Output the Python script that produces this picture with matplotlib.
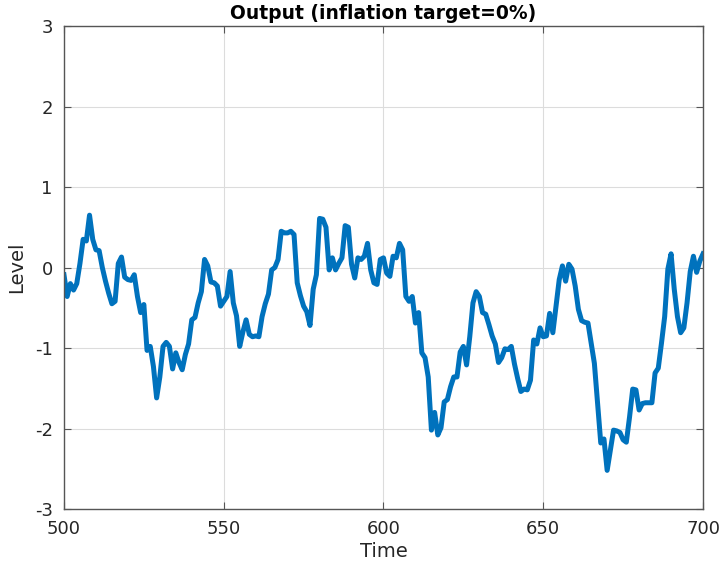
import matplotlib
matplotlib.use("Agg")
import matplotlib.pyplot as plt
import numpy as np

plt.rcParams['font.family'] = ['DejaVu Sans']
plt.rcParams['axes.unicode_minus'] = False

time = list(range(500, 701))
level = [
    -0.09, -0.36, -0.20, -0.28, -0.20, 0.05, 0.35, 0.33, 0.65, 0.35,
    0.22, 0.21, 0.00, -0.17, -0.32, -0.45, -0.42, 0.05, 0.13, -0.12,
    -0.15, -0.16, -0.09, -0.36, -0.56, -0.46, -1.03, -0.98, -1.23, -1.62,
    -1.36, -0.98, -0.93, -0.98, -1.26, -1.06, -1.18, -1.27, -1.08, -0.95,
    -0.65, -0.62, -0.44, -0.30, 0.10, 0.02, -0.18, -0.19, -0.23, -0.48,
    -0.42, -0.36, -0.05, -0.44, -0.60, -0.98, -0.80, -0.65, -0.83, -0.86,
    -0.85, -0.86, -0.61, -0.45, -0.33, -0.03, 0.00, 0.10, 0.45, 0.43,
    0.43, 0.45, 0.41, -0.19, -0.35, -0.48, -0.55, -0.72, -0.27, -0.09,
    0.61, 0.60, 0.50, -0.03, 0.12, -0.03, 0.05, 0.12, 0.52, 0.50,
    0.04, -0.13, 0.12, 0.10, 0.14, 0.30, -0.03, -0.19, -0.21, 0.10,
    0.12, -0.07, -0.11, 0.14, 0.12, 0.30, 0.22, -0.36, -0.42, -0.36,
    -0.69, -0.56, -1.06, -1.12, -1.36, -2.02, -1.80, -2.08, -1.99, -1.67,
    -1.64, -1.48, -1.36, -1.36, -1.05, -0.98, -1.21, -0.86, -0.44, -0.30,
    -0.36, -0.56, -0.58, -0.71, -0.85, -0.95, -1.18, -1.12, -1.01, -1.02,
    -0.98, -1.20, -1.38, -1.54, -1.51, -1.52, -1.40, -0.90, -0.95, -0.75,
    -0.86, -0.85, -0.57, -0.81, -0.48, -0.15, 0.02, -0.17, 0.04, -0.02,
    -0.23, -0.52, -0.66, -0.68, -0.69, -0.94, -1.19, -1.68, -2.18, -2.13,
    -2.52, -2.27, -2.02, -2.03, -2.05, -2.14, -2.17, -1.86, -1.51, -1.52,
    -1.77, -1.69, -1.68, -1.68, -1.68, -1.31, -1.25, -0.94, -0.61, -0.02,
    0.17, -0.27, -0.61, -0.81, -0.75, -0.44, -0.05, 0.14, -0.06, 0.08,
    0.17,
]
xticks = [500, 550, 600, 650, 700]
yticks = [-3, -2, -1, 0, 1, 2, 3]

fig = plt.figure(figsize=(7.22, 5.63), dpi=100)
ax = fig.add_axes([0.0886, 0.0959, 0.8851, 0.8579])
ax.plot(time, level, color='#0072BD', linewidth=3.6, solid_joinstyle='round')
ax.set_xlim(500, 700)
ax.set_ylim(-3, 3)
ax.set_xticks(xticks)
ax.set_yticks(yticks)
ax.grid(True, color='#dcdcdc', linewidth=0.8)
ax.set_axisbelow(True)
for s in ax.spines.values():
    s.set_color('#555555')
    s.set_linewidth(1.0)
ax.tick_params(direction='in', length=5, width=0.8, colors='#555555',
               labelcolor='#262626', labelsize=13, top=True, right=True)
ax.tick_params(axis='y', pad=8)
ax.tick_params(axis='x', pad=8)
ax.set_title('Output (inflation target=0%)', fontsize=13.5, fontweight='bold', pad=5)
ax.set_xlabel('Time', fontsize=14, color='#262626', labelpad=3)
ax.set_ylabel('Level', fontsize=14, color='#262626', labelpad=6)
fig.savefig('out.png', dpi=100, facecolor='white')
